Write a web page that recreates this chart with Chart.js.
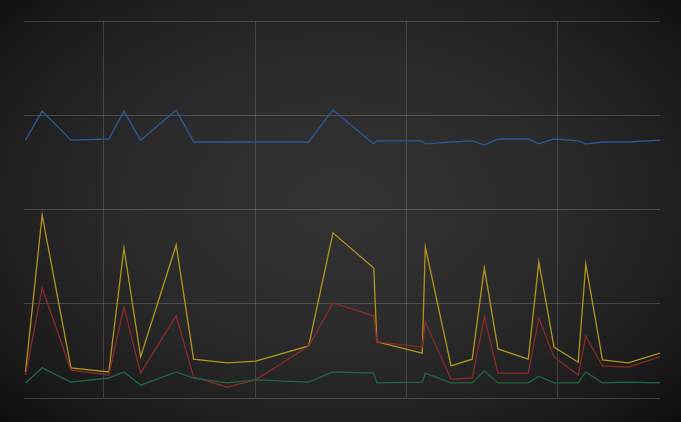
<!DOCTYPE html>
<html>
<head>
<meta charset="utf-8">
<script src="https://cdn.jsdelivr.net/npm/chart.js@4/dist/chart.umd.min.js"></script>
<style>
  html, body { margin: 0; padding: 0; }
  body {
    width: 681px; height: 422px; overflow: hidden;
    background: radial-gradient(ellipse 72% 78% at 50% 48%, #333333 0%, #2a2a2a 45%, #1a1a1a 80%, #0a0a0a 100%);
  }
  #wrap { width: 681px; height: 422px; }
</style>
</head>
<body>
<div id="wrap"><canvas id="myChart"></canvas></div>
<script>
const xValues = [0.1, 1.2, 3.1, 5.6, 6.6, 7.7, 10.05, 11.2, 13.4, 15.3, 18.8, 20.4, 23.1, 23.3,
  26.3, 26.5, 28.2, 29.6, 30.4, 31.3, 33.3, 34.0, 35.0, 36.6, 37.1, 38.2, 39.9, 42.0];

const blueValues = [68.4, 76.1, 68.4, 68.7, 76.1, 68.4, 76.4, 67.9, 67.9, 67.9, 67.9, 76.4, 67.4, 68.2,
  68.2, 67.4, 67.9, 68.2, 67.1, 68.7, 68.7, 67.4, 68.7, 68.2, 67.4, 67.9, 67.9, 68.4];
const yellowValues = [6.9, 48.5, 8.0, 6.9, 39.8, 10.9, 40.6, 10.3, 9.3, 9.8, 13.8, 43.8, 34.5, 14.9,
  11.9, 40.1, 8.5, 10.3, 34.5, 13.0, 10.3, 36.1, 13.5, 9.5, 35.5, 10.1, 9.3, 11.9];
const redValues = [6.1, 29.2, 7.4, 6.1, 24.1, 6.6, 21.8, 5.6, 2.9, 4.8, 13.8, 25.2, 21.8, 14.9,
  13.5, 20.2, 5.0, 5.3, 21.5, 6.6, 6.6, 21.2, 10.9, 6.1, 16.4, 8.5, 8.2, 10.9];
const greenValues = [4.0, 8.0, 4.2, 5.3, 6.9, 3.4, 6.9, 5.3, 4.0, 4.8, 4.2, 6.9, 6.6, 4.0,
  4.2, 6.6, 4.0, 4.0, 7.2, 4.0, 4.0, 5.8, 4.0, 4.0, 6.9, 4.0, 4.2, 4.0];

const xGridTicks = [5.22, 15.27, 25.25, 35.23];
const yTicks = [0, 25, 50, 75, 100];

function pts(values) {
  return values.map((v, i) => ({ x: xValues[i], y: v }));
}

function line(values, color) {
  return {
    data: pts(values),
    borderColor: color,
    borderWidth: 1.3,
    pointRadius: 0,
    tension: 0,
    fill: false,
  };
}

const ctx = document.getElementById('myChart');

new Chart(ctx, {
  type: 'line',
  data: {
    datasets: [
      line(blueValues, '#2b5896'),
      line(greenValues, '#1c6840'),
      line(redValues, '#8a2b29'),
      line(yellowValues, '#b0961c'),
    ],
  },
  options: {
    responsive: true,
    maintainAspectRatio: false,
    animation: false,
    layout: { padding: { left: 24, right: 21, top: 21, bottom: 24 } },
    plugins: { legend: { display: false }, tooltip: { enabled: false } },
    scales: {
      x: {
        type: 'linear',
        min: 0,
        max: 42,
        afterBuildTicks: (axis) => { axis.ticks = xGridTicks.map((v) => ({ value: v })); },
        ticks: { display: false },
        grid: { color: 'rgba(255,255,255,0.15)', drawTicks: false, lineWidth: 1 },
        border: { display: false },
      },
      y: {
        min: 0,
        max: 100,
        afterBuildTicks: (axis) => { axis.ticks = yTicks.map((v) => ({ value: v })); },
        ticks: { display: false },
        grid: { color: 'rgba(255,255,255,0.17)', drawTicks: false, lineWidth: 1 },
        border: { display: false },
      },
    },
  },
});
</script>
</body>
</html>
